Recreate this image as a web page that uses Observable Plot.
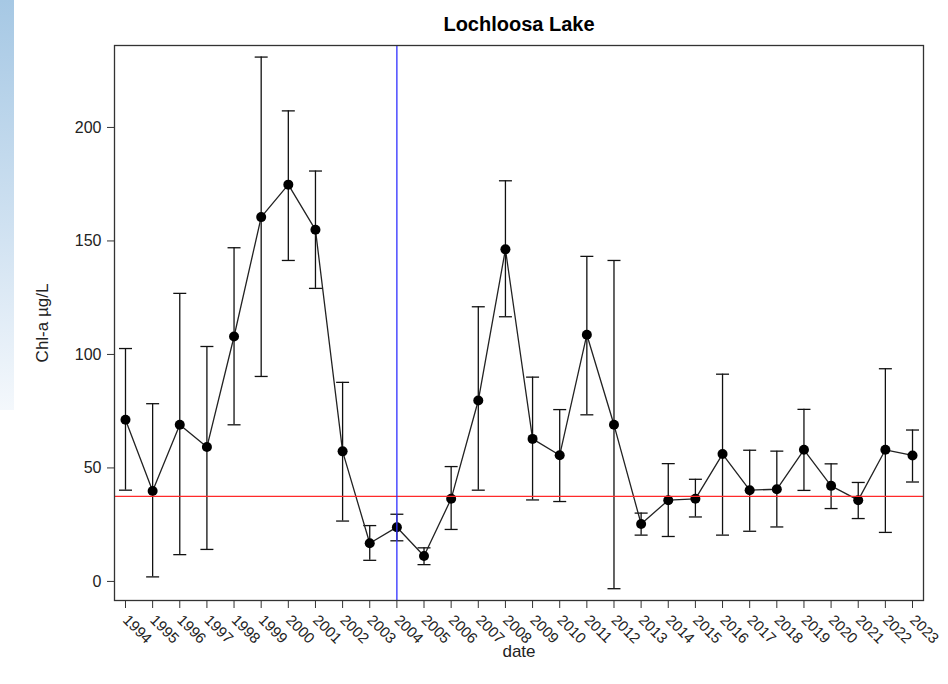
<!DOCTYPE html>
<html>
<head>
<meta charset="utf-8">
<script src="https://cdn.jsdelivr.net/npm/d3@7"></script>
<script src="https://cdn.jsdelivr.net/npm/@observablehq/plot@0.6"></script>
<style>
  html, body { margin: 0; padding: 0; background: #fff; }
  #wrap { position: relative; width: 948px; height: 684px; overflow: hidden; }
  #strip { position: absolute; left: 0; top: 0; width: 14px; height: 410px;
           background: linear-gradient(#a6c8e4, #cfe1f1 55%, #f4f8fc); }
  #chart { position: absolute; left: 0; top: 0; }
  svg { font-family: "Liberation Sans", Arial, sans-serif; background: transparent !important; }
</style>
</head>
<body>
<div id="wrap"><div id="strip"></div><div id="chart"></div></div>
<script>
const years = [1994,1995,1996,1997,1998,1999,2000,2001,2002,2003,2004,2005,2006,2007,2008,2009,2010,2011,2012,2013,2014,2015,2016,2017,2018,2019,2020,2021,2022,2023];
const means = [71.2,39.8,69.0,59.2,107.9,160.5,174.8,154.9,57.3,16.8,23.9,11.2,36.4,79.7,146.3,62.8,55.6,108.7,69.0,25.3,35.8,36.4,56.1,40.2,40.6,58.0,42.1,35.8,58.0,55.5];
const upper = [102.6,78.3,126.9,103.5,147.0,231.0,207.3,180.8,87.7,24.6,29.6,14.8,50.6,121.0,176.5,90.0,75.7,143.2,141.4,30.1,51.9,45.0,91.3,57.8,57.4,75.8,51.8,43.6,93.7,66.7];
const lower = [40.2,2.0,11.8,14.1,69.0,90.3,141.4,129.1,26.6,9.3,17.9,7.4,22.9,40.2,116.6,35.9,35.2,73.4,-3.2,20.4,19.8,28.4,20.4,22.1,24.0,40.1,32.1,27.7,21.6,43.8];
const yTicks = [0, 50, 100, 150, 200];
const refYear = [2004];
const refLevel = [37.5];
const titleText = ["Lochloosa Lake"];
const xLabel = ["date"];
const yLabel = ["Chl-a µg/L"];

const data = years.map((y, i) => ({year: y, mean: means[i], hi: upper[i], lo: lower[i]}));

const cap = {
  draw(context) {
    context.moveTo(-6.5, 0);
    context.lineTo(6.5, 0);
  }
};

const chart = Plot.plot({
  width: 948,
  height: 684,
  marginLeft: 114,
  marginRight: 25,
  marginTop: 45,
  marginBottom: 84,
  style: {fontFamily: '"Liberation Sans", Arial, sans-serif', background: "transparent", fontSize: "14px"},
  x: {type: "linear", domain: [1993.595, 2023.405]},
  y: {domain: [-8.4, 236.1]},
  marks: [
    Plot.axisY({ticks: yTicks, tickSize: 7, tickPadding: 6, fontSize: 16, stroke: "#333", color: "#222", label: null}),
    Plot.axisX({ticks: years, tickFormat: d => String(d), tickRotate: 45, tickSize: 8, tickPadding: 9, fontSize: 15, stroke: "#333", color: "#222", label: null}),
    Plot.ruleX(data, {x: "year", y1: "lo", y2: "hi", stroke: "#111", strokeWidth: 1.3}),
    Plot.dot(data, {x: "year", y: "hi", symbol: cap, r: 4, stroke: "#111", strokeWidth: 1.3, fill: "none"}),
    Plot.dot(data, {x: "year", y: "lo", symbol: cap, r: 4, stroke: "#111", strokeWidth: 1.3, fill: "none"}),
    Plot.line(data, {x: "year", y: "mean", stroke: "#222", strokeWidth: 1.3}),
    Plot.dot(data, {x: "year", y: "mean", r: 5, fill: "#000", stroke: "none"}),
    Plot.ruleY(refLevel, {stroke: "#ff2a2a", strokeWidth: 1.3}),
    Plot.ruleX(refYear, {stroke: "#2f2fff", strokeWidth: 1.3}),
    Plot.frame({stroke: "#333", strokeWidth: 1.3}),
    Plot.text(titleText, {frameAnchor: "top", dy: -21, lineAnchor: "middle", fontSize: 20, fontWeight: "bold", fill: "#000"}),
    Plot.text(xLabel, {frameAnchor: "bottom", dy: 51, lineAnchor: "middle", fontSize: 17, fill: "#222"}),
    Plot.text(yLabel, {frameAnchor: "left", dx: -72, rotate: -90, textAnchor: "middle", lineAnchor: "middle", fontSize: 17, fill: "#222"})
  ]
});
document.getElementById("chart").appendChild(chart);
</script>
</body>
</html>
